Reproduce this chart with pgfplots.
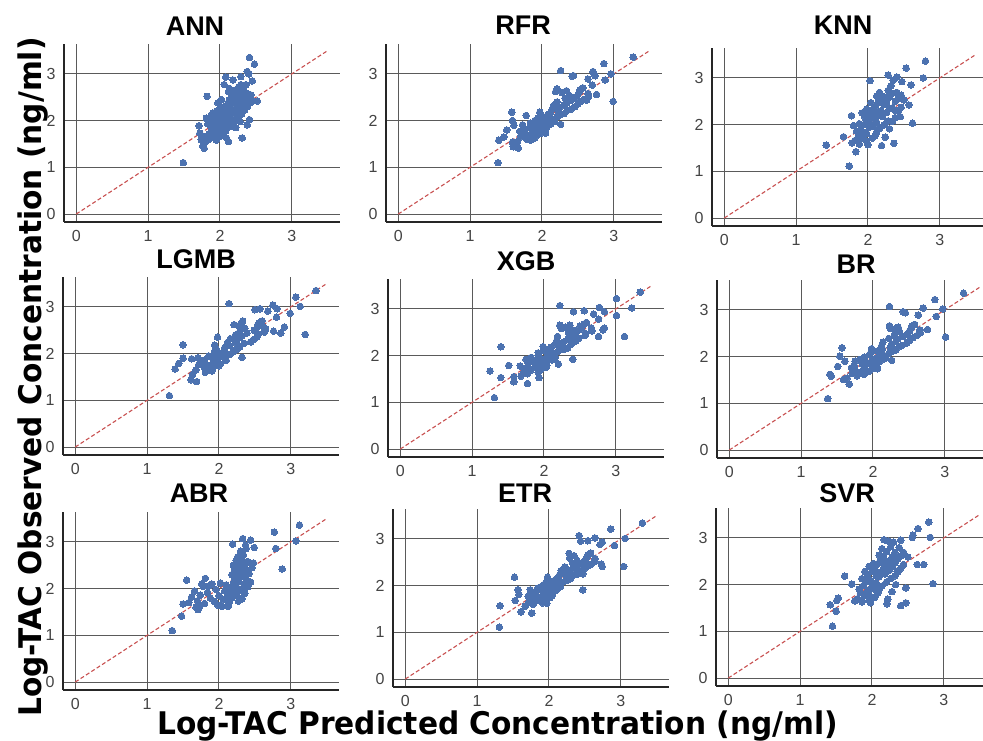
\documentclass[border=0pt]{standalone}
\usepackage{pgfplots}
\pgfplotsset{compat=1.18}
\usepackage{fontspec}
\setmainfont{Liberation Sans}
\newfontfamily\labfont[FakeStretch=0.95]{DejaVu Sans}
\definecolor{dotblue}{HTML}{4C72B0}
\definecolor{diagred}{HTML}{C85050}
\definecolor{gridgray}{HTML}{5A5A5A}
\definecolor{tickgray}{HTML}{444444}

% 1 px of the reference = 0.5pt
\pgfplotsset{
  panel/.style={
    scale only axis, width=138pt, height=89pt, anchor=south west,
    xmin=-0.17, xmax=3.67, ymin=-0.17, ymax=3.64,
    axis x line*=bottom, axis y line*=left,
    axis line style={-, line width=0.8pt, black!85},
    xtick={0,1,2,3}, ytick={0,1,2,3},
    major tick length=0pt,
    grid=major, grid style={gridgray, line width=0.5pt},
    tick label style={font=\fontsize{8}{8}\selectfont, text=tickgray},
    /pgf/number format/assume math mode=true,
    xticklabel style={inner sep=0pt, yshift=-4.2pt},
    yticklabel style={inner sep=0pt, xshift=-4pt},
  },
  pts/.style={only marks, mark=*, mark size=1.65pt, color=dotblue, mark options={fill=dotblue, draw=dotblue, line width=0pt}},
  diag/.style={diagred, line width=0.55pt, dash pattern=on 2pt off 1.2pt},
}
\tikzset{ttl/.style={font=\bfseries\fontsize{13.5}{13.5}\selectfont, anchor=base}}

\begin{document}
\begin{tikzpicture}
\path[use as bounding box] (0,0) rectangle (491.5pt,370pt);

% ---------- row 1 ----------
\begin{axis}[panel, at={(32pt,259pt)}]
\addplot[diag] coordinates {(0,0) (3.5,3.5)};
\addplot[pts] coordinates {
(1.49,1.10)(2.41,3.35)(2.48,3.21)(2.08,2.93)(2.29,2.94)(2.38,3.05)(2.40,3.00)(2.45,2.85)(2.18,2.87)
(1.82,2.52)(2.52,2.42)(2.45,2.42)(2.31,1.63)(2.12,1.55)(1.71,1.89)(1.72,1.73)(1.76,1.45)(1.78,1.41)
(1.74,1.59)(2.41,2.02)(2.38,1.91)(2.13,2.09)(2.29,2.77)(2.36,2.77)(2.06,2.77)(2.22,2.66)(2.13,2.44)
(2.01,2.30)(1.90,2.16)(1.81,2.05)(1.88,1.87)(1.94,1.66)(2.04,1.77)(2.18,1.87)(2.25,2.12)(2.31,2.30)
(2.36,2.48)(2.43,2.55)(2.13,2.69)(2.20,2.52)
(1.80,1.55)(1.85,1.60)(1.95,1.58)(1.78,1.65)(1.90,1.68)(2.00,1.66)(1.85,1.72)(1.95,1.75)(2.05,1.72)
(1.88,1.80)(1.98,1.82)(2.08,1.78)(1.92,1.88)(2.02,1.90)(2.12,1.86)(1.96,1.95)(2.06,1.97)(2.16,1.93)
(1.90,2.00)(2.00,2.02)(2.10,2.05)(2.20,2.00)(1.95,2.08)(2.05,2.12)(2.15,2.10)(2.25,2.06)(2.00,2.16)
(2.10,2.20)(2.20,2.18)(2.30,2.14)(2.05,2.24)(2.14,2.28)(2.24,2.25)(2.34,2.22)(2.08,2.32)(2.18,2.36)
(2.28,2.34)(2.38,2.30)(2.12,2.40)(2.22,2.44)(2.32,2.42)(2.42,2.38)(2.15,2.48)(2.25,2.52)(2.35,2.50)
(2.18,2.56)(2.28,2.60)(2.38,2.58)(2.22,2.64)(2.32,2.68)(2.26,2.72)(2.36,2.76)(2.30,2.55)(2.12,2.62)
(2.02,2.45)(1.95,2.20)(2.28,1.98)(2.22,1.85)(1.88,2.12)(2.40,2.48)
(1.83,1.93)(2.09,1.63)(2.27,2.41)(1.97,2.38)(2.17,2.02)(2.33,2.60)(2.04,1.87)
};
\end{axis}

\begin{axis}[panel, at={(193pt,259pt)}]
\addplot[diag] coordinates {(0,0) (3.5,3.5)};
\addplot[pts] coordinates {
(1.39,1.10)(3.27,3.36)(2.86,3.22)(2.26,3.07)(2.44,2.96)(2.42,2.95)(2.71,3.05)(2.74,2.96)(2.96,3.00)
(2.64,2.89)(2.70,2.76)(2.88,2.87)(2.99,2.41)(2.76,2.56)(2.62,2.44)(2.19,2.62)(2.21,2.68)(1.58,2.18)
(1.59,2.00)(1.61,1.90)(1.51,1.80)(1.40,1.58)(1.47,1.65)(1.59,1.54)(1.60,1.44)(1.67,1.41)(2.26,1.92)
(2.05,1.73)(1.98,1.75)(1.84,1.58)(1.78,2.11)
(1.66,1.55)(1.79,1.60)(1.90,1.63)(1.70,1.65)(1.84,1.68)(1.94,1.70)(1.77,1.72)(2.00,1.74)(1.86,1.75)
(1.69,1.77)(2.05,1.78)(1.90,1.80)(1.76,1.82)(1.97,1.83)(2.06,1.85)(1.83,1.86)(1.91,1.88)(2.09,1.90)
(1.73,1.91)(1.97,1.92)(2.13,1.94)(1.84,1.95)(2.02,1.97)(2.17,1.98)(1.90,2.00)(2.06,2.01)(2.17,2.03)
(1.94,2.05)(2.09,2.06)(2.21,2.08)(1.99,2.10)(2.25,2.12)(2.08,2.13)(2.31,2.15)(2.12,2.17)(1.97,2.18)
(2.23,2.20)(2.35,2.22)(2.14,2.24)(2.41,2.25)(2.25,2.28)(2.46,2.30)(2.16,2.32)(2.31,2.34)(2.50,2.36)
(2.35,2.38)(2.21,2.40)(2.55,2.42)(2.41,2.44)(2.60,2.46)(2.32,2.48)(2.47,2.50)(2.65,2.52)(2.38,2.54)
(2.50,2.56)(2.64,2.58)(2.28,2.60)(2.52,2.62)(2.34,2.64)(2.53,2.66)(2.57,2.70)
};
\end{axis}

\begin{axis}[panel, at={(356pt,257pt)}]
\addplot[diag] coordinates {(0,0) (3.5,3.5)};
\addplot[pts] coordinates {
(1.74,1.11)(2.80,3.36)(1.42,1.56)(2.53,3.21)(2.03,2.94)(2.28,3.06)(2.77,3.00)(2.62,2.03)(2.36,1.60)
(2.19,1.55)(1.77,2.19)(1.66,1.74)(1.83,1.42)(2.57,2.42)(2.45,2.17)(2.40,3.02)(2.47,2.92)(2.60,2.85)
(2.35,2.95)
(1.78,1.61)(1.88,1.58)(1.98,1.65)(1.82,1.66)(1.94,1.70)(2.06,1.71)(1.86,1.72)(1.98,1.81)(2.10,1.76)
(1.84,1.86)(1.96,1.83)(2.12,1.84)(1.90,1.88)(2.02,1.95)(2.16,1.92)(1.94,2.00)(2.08,1.97)(2.22,1.99)
(1.88,2.02)(2.00,2.10)(2.12,2.05)(2.28,2.08)(1.96,2.15)(2.08,2.12)(2.20,2.17)(2.34,2.07)(2.02,2.24)
(2.14,2.21)(2.26,2.26)(2.38,2.15)(2.06,2.31)(2.18,2.29)(2.30,2.34)(2.42,2.29)(2.10,2.38)(2.22,2.43)
(2.34,2.36)(2.46,2.37)(2.14,2.48)(2.26,2.46)(2.38,2.50)(2.18,2.52)(2.30,2.59)(2.42,2.55)(2.22,2.60)
(2.34,2.67)(2.46,2.63)(2.28,2.73)(2.40,2.69)(2.32,2.83)(2.12,2.61)(2.04,2.47)(1.92,2.25)(2.00,1.57)
(2.30,1.91)(2.24,1.73)(1.80,1.98)(2.50,2.53)(2.16,2.69)(1.98,2.33)
(2.05,1.97)(2.19,2.51)(1.91,1.79)(2.37,2.31)(2.11,2.28)
};
\end{axis}

% ---------- row 2 ----------
\begin{axis}[panel, at={(31.5pt,142.5pt)}]
\addplot[diag] coordinates {(0,0) (3.5,3.5)};
\addplot[pts] coordinates {
(1.31,1.10)(3.35,3.35)(3.07,3.21)(3.13,3.01)(2.99,2.86)(3.20,2.41)(2.14,3.07)(2.50,2.94)(2.57,2.96)
(2.75,3.04)(2.68,2.91)(2.81,2.96)(2.80,2.78)(2.86,2.44)(2.91,2.57)(2.76,2.48)(1.50,2.19)(1.50,1.90)
(1.44,1.79)(1.39,1.67)(1.62,1.89)(1.61,1.44)(1.69,1.40)(2.32,1.92)(2.10,1.86)(2.21,2.62)(2.33,2.70)
(1.98,2.35)
(1.63,1.55)(1.81,1.60)(1.90,1.63)(1.68,1.65)(1.87,1.68)(1.91,1.70)(1.79,1.72)(2.00,1.74)(1.84,1.75)
(1.72,1.77)(2.02,1.78)(1.92,1.80)(1.76,1.82)(1.95,1.83)(2.09,1.85)(1.80,1.86)(1.93,1.88)(2.09,1.90)
(1.71,1.91)(2.00,1.92)(2.10,1.94)(1.86,1.95)(2.02,1.97)(2.15,1.98)(1.93,2.00)(2.03,2.01)(2.19,2.03)
(1.94,2.05)(2.07,2.06)(2.24,2.08)(1.96,2.10)(2.27,2.12)(2.08,2.13)(2.29,2.15)(2.15,2.17)(1.94,2.18)
(2.25,2.20)(2.35,2.22)(2.12,2.24)(2.44,2.25)(2.22,2.28)(2.48,2.30)(2.16,2.32)(2.29,2.34)(2.53,2.36)
(2.32,2.38)(2.23,2.40)(2.55,2.42)(2.39,2.44)(2.63,2.46)(2.29,2.48)(2.49,2.50)(2.65,2.52)(2.36,2.54)
(2.53,2.56)(2.62,2.58)(2.28,2.60)(2.54,2.62)(2.31,2.64)(2.56,2.66)(2.60,2.70)
};
\end{axis}

\begin{axis}[panel, at={(194pt,141.5pt)}]
\addplot[diag] coordinates {(0,0) (3.5,3.5)};
\addplot[pts] coordinates {
(1.31,1.10)(3.34,3.36)(3.01,3.22)(3.22,3.02)(3.01,2.86)(3.12,2.41)(2.22,3.07)(2.41,2.94)(2.56,2.96)
(2.77,3.03)(2.69,2.89)(2.84,2.94)(2.76,2.78)(2.82,2.55)(2.84,2.59)(2.76,2.41)(1.40,2.19)(1.25,1.67)
(1.40,1.53)(1.51,1.79)(1.58,1.55)(1.58,1.44)(1.77,1.40)(1.93,1.53)(2.40,1.92)(2.20,1.82)(2.22,2.65)
(2.24,2.58)
(1.68,1.56)(1.77,1.61)(1.92,1.64)(1.72,1.66)(1.82,1.69)(1.96,1.71)(1.75,1.73)(2.03,1.75)(1.88,1.76)
(1.67,1.78)(2.04,1.79)(1.93,1.81)(1.78,1.83)(1.99,1.84)(2.04,1.86)(1.85,1.87)(1.89,1.89)(2.11,1.91)
(1.75,1.92)(1.95,1.93)(2.15,1.95)(1.82,1.96)(2.04,1.98)(2.15,1.99)(1.92,2.01)(2.08,2.02)(2.15,2.04)
(1.92,2.06)(2.11,2.07)(2.19,2.09)(2.01,2.11)(2.27,2.13)(2.06,2.14)(2.33,2.16)(2.10,2.18)(1.99,2.19)
(2.21,2.21)(2.37,2.23)(2.16,2.25)(2.39,2.26)(2.27,2.29)(2.44,2.31)(2.18,2.33)(2.33,2.35)(2.48,2.37)
(2.37,2.39)(2.19,2.41)(2.57,2.43)(2.43,2.45)(2.58,2.47)(2.34,2.49)(2.45,2.51)(2.67,2.53)(2.40,2.55)
(2.52,2.57)(2.66,2.59)(2.30,2.61)(2.50,2.63)(2.36,2.65)(2.55,2.67)(2.59,2.71)
};
\end{axis}

\begin{axis}[panel, at={(358.5pt,141pt)}]
\addplot[diag] coordinates {(0,0) (3.5,3.5)};
\addplot[pts] coordinates {
(1.37,1.10)(3.26,3.36)(2.86,3.22)(2.97,3.02)(3.01,2.42)(2.88,2.86)(2.23,3.07)(2.42,2.96)(2.45,2.94)
(2.70,3.04)(2.63,2.89)(2.76,2.58)(1.57,2.19)(1.54,2.01)(1.61,1.90)(1.51,1.79)(1.40,1.62)(1.42,1.58)
(1.59,1.51)(1.67,1.41)(2.26,1.92)(2.06,1.74)(2.23,2.66)(2.24,2.60)
(1.64,1.54)(1.78,1.59)(1.88,1.62)(1.71,1.64)(1.83,1.67)(1.95,1.69)(1.75,1.71)(1.98,1.73)(1.87,1.74)
(1.70,1.76)(2.06,1.77)(1.88,1.79)(1.74,1.81)(1.98,1.82)(2.05,1.84)(1.85,1.85)(1.92,1.87)(2.08,1.89)
(1.75,1.90)(1.99,1.91)(2.12,1.93)(1.82,1.94)(2.03,1.96)(2.18,1.97)(1.88,1.99)(2.08,2.00)(2.16,2.02)
(1.95,2.04)(2.10,2.05)(2.22,2.07)(1.97,2.09)(2.26,2.11)(2.06,2.12)(2.32,2.14)(2.13,2.16)(1.98,2.17)
(2.24,2.19)(2.36,2.21)(2.12,2.23)(2.40,2.24)(2.26,2.27)(2.47,2.29)(2.14,2.31)(2.32,2.33)(2.51,2.35)
(2.34,2.37)(2.22,2.39)(2.56,2.41)(2.42,2.43)(2.61,2.45)(2.30,2.47)(2.48,2.49)(2.66,2.51)(2.37,2.53)
(2.51,2.55)(2.65,2.57)(2.30,2.59)(2.53,2.61)(2.35,2.63)(2.54,2.65)(2.58,2.69)
};
\end{axis}

% ---------- row 3 ----------
\begin{axis}[panel, at={(31.5pt,25pt)}]
\addplot[diag] coordinates {(0,0) (3.5,3.5)};
\addplot[pts] coordinates {
(1.35,1.10)(3.12,3.36)(2.77,3.21)(3.07,3.02)(2.79,2.86)(2.88,2.42)(2.33,3.07)(2.19,2.95)(2.44,3.04)
(2.37,2.93)(2.49,2.88)(1.55,2.18)(1.81,2.22)(1.50,1.67)(1.48,1.41)(1.71,1.55)(1.73,1.63)(2.13,1.62)
(2.14,1.70)(2.27,1.73)
(2.18,1.80)(2.25,1.85)(2.32,1.78)(2.20,1.92)(2.28,1.95)(2.36,1.90)(2.16,2.02)(2.24,2.05)(2.32,2.00)
(2.40,2.04)(2.20,2.12)(2.28,2.15)(2.36,2.10)(2.22,2.22)(2.30,2.25)(2.38,2.20)(2.18,2.30)(2.26,2.34)
(2.34,2.30)(2.42,2.32)(2.22,2.40)(2.30,2.44)(2.38,2.40)(2.46,2.45)(2.20,2.50)(2.28,2.54)(2.36,2.50)
(2.24,2.60)(2.32,2.63)(2.40,2.58)(2.26,2.68)(2.34,2.72)(2.30,2.80)(2.38,2.86)(2.14,1.90)(2.10,2.08)
(2.44,2.14)(2.48,2.55)
(1.58,1.70)(1.62,1.82)(1.66,1.95)(1.70,1.74)(1.74,1.86)(1.78,2.05)(1.80,1.68)(1.84,1.92)(1.88,1.80)
(1.90,2.10)(1.94,1.72)(1.96,1.98)(2.00,1.85)(2.02,2.12)(2.06,1.76)(2.08,1.95)(1.86,2.06)(1.76,2.10)
(1.98,1.65)(2.04,1.62)(1.68,1.60)(2.12,1.84)
};
\end{axis}

\begin{axis}[panel, at={(196.5pt,26.5pt)}]
\addplot[diag] coordinates {(0,0) (3.5,3.5)};
\addplot[pts] coordinates {
(1.31,1.11)(3.30,3.34)(2.86,3.21)(3.06,3.01)(3.04,2.41)(2.91,2.86)(2.42,3.07)(2.44,2.95)(2.54,2.96)
(2.64,3.02)(2.71,2.88)(2.74,2.93)(2.74,2.41)(2.73,2.46)(1.32,1.57)(1.52,2.18)(1.57,1.91)(1.58,1.81)
(1.53,1.68)(1.61,1.44)(1.76,1.41)(1.97,1.62)(2.47,1.91)(2.28,2.69)(2.29,2.59)(2.47,2.25)
(1.67,1.56)(1.78,1.60)(1.91,1.63)(1.72,1.65)(1.85,1.68)(1.92,1.70)(1.78,1.72)(2.01,1.74)(1.85,1.75)
(1.71,1.77)(2.04,1.78)(1.91,1.80)(1.77,1.82)(1.96,1.83)(2.05,1.85)(1.82,1.86)(1.92,1.88)(2.10,1.90)
(1.74,1.91)(1.98,1.92)(2.12,1.94)(1.85,1.95)(2.03,1.97)(2.16,1.98)(1.91,2.00)(2.07,2.01)(2.16,2.03)
(1.95,2.05)(2.10,2.06)(2.20,2.08)(2.00,2.10)(2.26,2.12)(2.09,2.13)(2.30,2.15)(2.13,2.17)(1.98,2.18)
(2.24,2.20)(2.34,2.22)(2.15,2.24)(2.40,2.25)(2.26,2.28)(2.45,2.30)(2.17,2.32)(2.31,2.34)(2.49,2.36)
(2.36,2.38)(2.22,2.40)(2.54,2.42)(2.42,2.44)(2.59,2.46)(2.33,2.48)(2.48,2.50)(2.64,2.52)(2.39,2.54)
(2.51,2.56)(2.64,2.58)(2.29,2.60)(2.53,2.62)(2.35,2.64)(2.54,2.66)(2.58,2.70)
};
\end{axis}

\begin{axis}[panel, at={(358pt,27pt)}]
\addplot[diag] coordinates {(0,0) (3.5,3.5)};
\addplot[pts] coordinates {
(1.45,1.11)(2.79,3.34)(2.64,3.20)(2.81,3.01)(2.57,3.06)(2.56,3.01)(2.17,2.96)(2.23,2.93)(2.40,2.95)
(2.85,2.02)(2.47,1.61)(2.40,1.55)(2.21,1.59)(1.62,2.18)(1.42,1.57)(1.50,1.43)(1.53,1.71)(1.51,1.66)
(2.72,2.43)(2.63,2.43)(2.47,1.93)(2.33,2.00)
(1.76,1.65)(1.86,1.63)(1.96,1.67)(1.80,1.70)(1.92,1.78)(2.04,1.73)(1.84,1.83)(1.96,1.79)(2.08,1.82)
(1.82,1.90)(1.94,1.87)(2.10,1.89)(1.88,1.98)(2.00,1.95)(2.14,1.97)(1.92,2.06)(2.06,2.03)(2.20,2.05)
(1.86,2.13)(1.98,2.09)(2.10,2.17)(2.26,2.13)(1.94,2.21)(2.06,2.18)(2.18,2.23)(2.32,2.19)(2.00,2.29)
(2.12,2.27)(2.24,2.31)(2.36,2.27)(2.04,2.37)(2.16,2.35)(2.28,2.39)(2.40,2.35)(2.08,2.45)(2.20,2.43)
(2.32,2.47)(2.44,2.43)(2.12,2.53)(2.24,2.51)(2.36,2.55)(2.16,2.61)(2.28,2.59)(2.40,2.61)(2.20,2.71)
(2.32,2.69)(2.44,2.69)(2.26,2.81)(2.38,2.79)(2.30,2.91)(2.10,2.63)(2.02,2.45)(1.90,2.28)(1.98,1.61)
(2.28,1.85)(2.22,1.69)(1.72,2.01)(2.50,2.59)(2.14,2.77)(1.96,2.39)
(2.03,1.91)(2.17,2.49)(1.89,1.77)(2.35,2.29)(2.09,2.24)
};
\end{axis}

% ---------- titles ----------
\node[ttl] at (97.5pt,352pt) {ANN};
\node[ttl] at (261.5pt,352.5pt) {RFR};
\node[ttl] at (421.5pt,352.5pt) {KNN};
\node[ttl] at (98pt,236pt) {LGMB};
\node[ttl] at (263pt,235pt) {XGB};
\node[ttl] at (428pt,233.5pt) {BR};
\node[ttl] at (99.5pt,119pt) {ABR};
\node[ttl] at (262.5pt,119pt) {ETR};
\node[ttl] at (423.5pt,119pt) {SVR};

% ---------- shared axis labels ----------
\node[font=\labfont\bfseries\fontsize{15.6}{15.6}\selectfont, anchor=base, inner sep=0pt] at (248.75pt,2.6pt)
  {Log-TAC Predicted Concentration (ng/ml)};
\node[font=\labfont\bfseries\fontsize{15.6}{15.6}\selectfont, rotate=90, anchor=base, inner sep=0pt] at (20.5pt,181.5pt)
  {Log-TAC Observed Concentration (ng/ml)};
\end{tikzpicture}
\end{document}
